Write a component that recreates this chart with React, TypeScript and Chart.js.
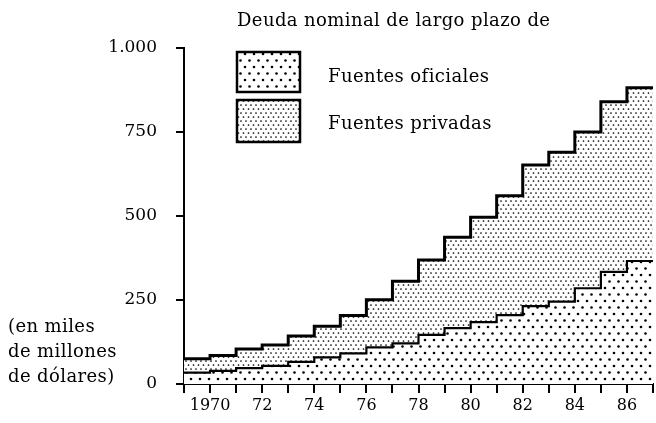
import React, { useEffect, useRef } from 'react';
import { Chart, registerables } from 'chart.js';

Chart.register(...registerables);

// Data (miles de millones de dólares)
const years = [1970, 1971, 1972, 1973, 1974, 1975, 1976, 1977, 1978, 1979, 1980, 1981, 1982, 1983, 1984, 1985, 1986, 1987];
const officialDebt = [34, 39, 47, 54, 66, 79, 91, 109, 121, 146, 166, 184, 205, 232, 245, 285, 334, 366];
const privateDebt = [41, 46, 57, 62, 77, 93, 113, 142, 185, 223, 271, 312, 355, 420, 445, 465, 506, 516];

const xLabelYears = [1970, 1972, 1974, 1976, 1978, 1980, 1982, 1984, 1986];
const xLabelTexts = ['1970', '72', '74', '76', '78', '80', '82', '84', '86'];
const yTickValues = [0, 250, 500, 750, 1000];
const yTickTexts = ['0', '250', '500', '750', '1.000'];

const titleText = 'Deuda nominal de largo plazo de';
const legendTexts = ['Fuentes oficiales', 'Fuentes privadas'];
const unitLines = ['(en miles', 'de millones', 'de dólares)'];

const FONT = '"DejaVu Serif", serif';

function makePattern(kind: 'big' | 'small'): CanvasPattern | string {
  const c = document.createElement('canvas');
  const ctx = c.getContext('2d');
  if (!ctx) return '#ccc';
  if (kind === 'big') {
    c.width = 9; c.height = 13;
    ctx.fillStyle = '#fff';
    ctx.fillRect(0, 0, 9, 13);
    ctx.fillStyle = '#000';
    ctx.beginPath(); ctx.arc(2, 2, 1.3, 0, Math.PI * 2); ctx.fill();
    ctx.beginPath(); ctx.arc(6.5, 8.5, 1.3, 0, Math.PI * 2); ctx.fill();
  } else {
    c.width = 5; c.height = 8;
    ctx.fillStyle = '#fff';
    ctx.fillRect(0, 0, 5, 8);
    ctx.fillStyle = '#000';
    ctx.beginPath(); ctx.arc(1, 1, 0.85, 0, Math.PI * 2); ctx.fill();
    ctx.beginPath(); ctx.arc(3.5, 5, 0.85, 0, Math.PI * 2); ctx.fill();
  }
  const p = ctx.createPattern(c, 'repeat');
  return p || '#ccc';
}

// value of year Y covers the interval [Y-1, Y]
function toSteps(values: number[]) {
  const pts = years.map((yr, i) => ({ x: yr - 1, y: values[i] }));
  pts.push({ x: years[years.length - 1], y: values[values.length - 1] });
  return pts;
}

export default function App() {
  const ref = useRef<HTMLCanvasElement | null>(null);

  useEffect(() => {
    if (!ref.current) return;
    const bigDots = makePattern('big');
    const smallDots = makePattern('small');

    const textPlugin = {
      id: 'customText',
      afterDraw(chart: any) {
        const ctx = chart.ctx as any;
        ctx.save();
        ctx.fillStyle = '#000';
        ctx.textBaseline = 'middle';
        ctx.textAlign = 'left';
        ctx.font = `18px ${FONT}`;
        try { ctx.letterSpacing = '0.4px'; } catch (e) { /* ignore */ }
        ctx.fillText(titleText, 237, 21);
        const boxes = [
          { y: 52, h: 40, fill: bigDots, ty: 77 },
          { y: 100, h: 42, fill: smallDots, ty: 124 },
        ];
        boxes.forEach((b, i) => {
          ctx.fillStyle = b.fill;
          ctx.fillRect(237, b.y, 63, b.h);
          ctx.lineWidth = 2.5;
          ctx.strokeStyle = '#000';
          ctx.strokeRect(237, b.y, 63, b.h);
          ctx.fillStyle = '#000';
          ctx.fillText(legendTexts[i], 328, b.ty);
        });
        unitLines.forEach((t, i) => {
          ctx.fillText(t, 8, 327 + i * 25);
        });
        ctx.restore();
      },
    };

    const chart = new Chart(ref.current, {
      type: 'line',
      data: {
        datasets: [
          {
            label: legendTexts[0],
            data: toSteps(officialDebt),
            stepped: 'before',
            borderColor: '#000',
            borderWidth: 2.2,
            backgroundColor: bigDots as any,
            fill: 'origin',
            pointRadius: 0,
          },
          {
            label: legendTexts[1],
            data: toSteps(privateDebt),
            stepped: 'before',
            borderColor: '#000',
            borderWidth: 3,
            backgroundColor: smallDots as any,
            fill: '-1',
            pointRadius: 0,
          },
        ],
      },
      options: {
        animation: false,
        responsive: false,
        layout: { padding: { top: 48, right: 1, left: 0, bottom: 0 } },
        plugins: {
          legend: { display: false },
          tooltip: { enabled: false },
          title: { display: false },
        },
        scales: {
          x: {
            type: 'linear',
            min: years[0] - 1,
            max: years[years.length - 1],
            z: 1,
            afterFit: (s: any) => { s.height = 39; },
            afterBuildTicks: (s: any) => {
              const t = [];
              for (let v = years[0] - 1; v <= years[years.length - 1]; v++) t.push({ value: v });
              s.ticks = t;
            },
            ticks: {
              autoSkip: false,
              maxRotation: 0,
              minRotation: 0,
              padding: 3,
              color: '#000',
              font: { family: FONT, size: 16 },
              callback: (v: any) => {
                const idx = xLabelYears.indexOf(Number(v));
                return idx >= 0 ? xLabelTexts[idx] : '';
              },
            },
            grid: { drawOnChartArea: false, drawTicks: true, tickLength: 9, color: '#000', lineWidth: 2 },
            border: { display: true, color: '#000', width: 2 },
          },
          y: {
            stacked: true,
            min: 0,
            max: 1000,
            z: 1,
            afterFit: (s: any) => { s.width = 184; },
            afterBuildTicks: (s: any) => { s.ticks = yTickValues.map((v) => ({ value: v })); },
            ticks: {
              padding: 19,
              color: '#000',
              font: { family: FONT, size: 17 },
              callback: (v: any) => {
                const idx = yTickValues.indexOf(Number(v));
                return idx >= 0 ? yTickTexts[idx] : '';
              },
            },
            grid: { drawOnChartArea: false, drawTicks: true, tickLength: 8, color: '#000', lineWidth: 2 },
            border: { display: true, color: '#000', width: 2 },
          },
        },
      },
      plugins: [textPlugin],
    } as any);
    return () => chart.destroy();
  }, []);

  return (
    <div style={{ position: 'fixed', left: 0, top: 0, width: 656, height: 423, background: '#fff' }}>
      <canvas ref={ref} width={656} height={423} style={{ display: 'block' }} />
    </div>
  );
}
